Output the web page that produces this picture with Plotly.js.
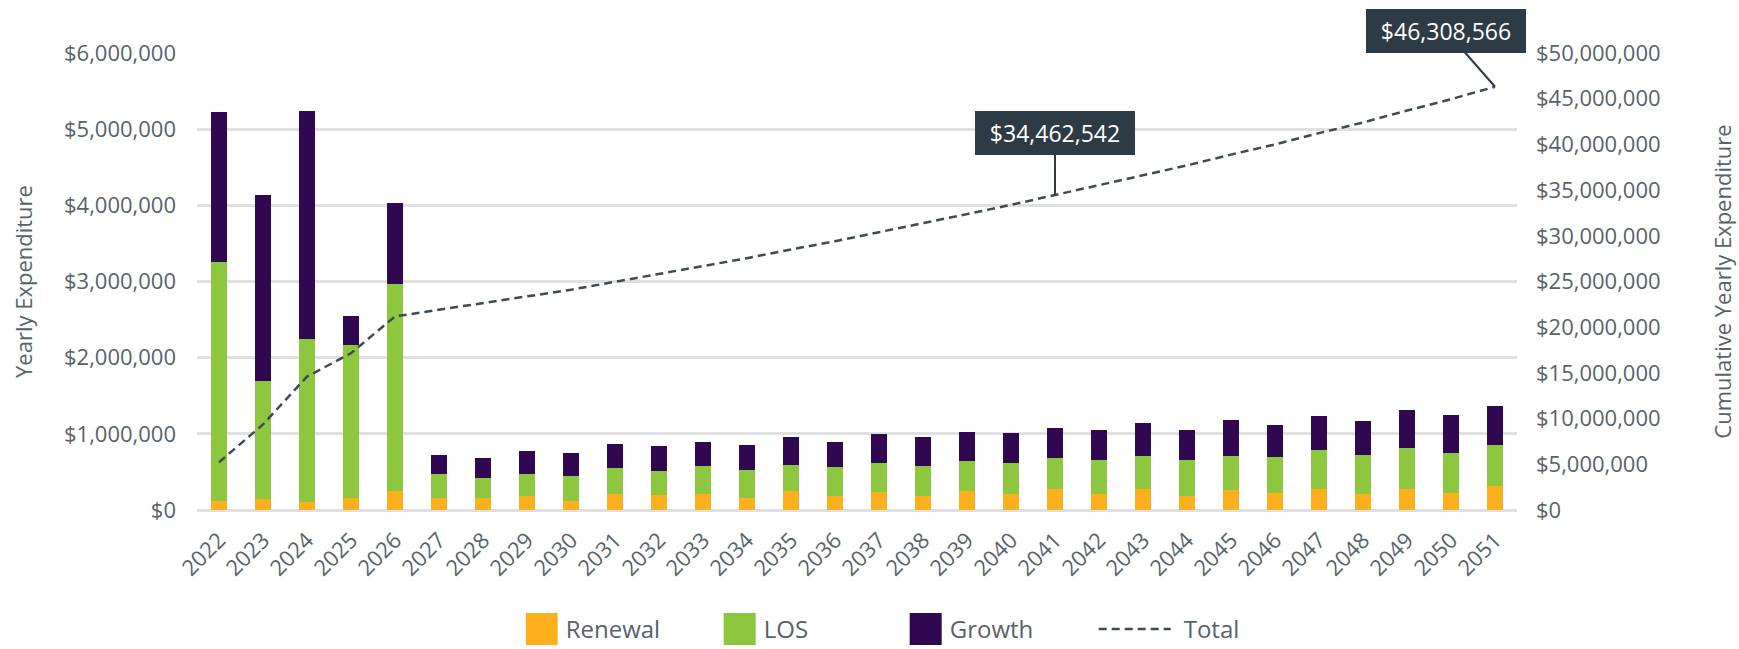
<!DOCTYPE html>
<html>
<head>
<meta charset="utf-8">
<script src="https://cdn.plot.ly/plotly-3.0.1.min.js"></script>
<style>
  html, body { margin: 0; padding: 0; background: #ffffff; }
  #chart { width: 1739px; height: 649px; }
</style>
</head>
<body>
<div id="chart"></div>
<script>
// ---- Data ----
const years = ['2022','2023','2024','2025','2026','2027','2028','2029','2030','2031',
               '2032','2033','2034','2035','2036','2037','2038','2039','2040','2041',
               '2042','2043','2044','2045','2046','2047','2048','2049','2050','2051'];

const renewal = [120000,145000,105000,153000,254000,153000,153000,184000,123000,209000,
                 191000,213000,164000,244000,178000,231000,178000,244000,209000,276000,
                 213000,276000,189000,265000,220000,277000,211000,282000,220000,317000];

const los = [3140000,1555000,2135000,2013000,2713000,315000,272000,284000,328000,338000,
             320000,365000,356000,347000,391000,391000,400000,400000,413000,404000,
             445000,435000,472000,448000,472000,516000,507000,533000,529000,542000];

const growth = [1960000,2438542,3000000,380000,1070000,254000,253000,307000,293000,320000,
                325000,311000,338000,365000,320000,378000,378000,378000,387000,400000,
                386000,436000,387000,467000,422000,441000,450000,493000,493000,502024];

const leftTicks = [0,1000000,2000000,3000000,4000000,5000000,6000000];
const leftTickLabels = ['$0','$1,000,000','$2,000,000','$3,000,000','$4,000,000','$5,000,000','$6,000,000'];
const rightTicks = [0,5000000,10000000,15000000,20000000,25000000,30000000,35000000,40000000,45000000,50000000];
const rightTickLabels = ['$0','$5,000,000','$10,000,000','$15,000,000','$20,000,000','$25,000,000',
                         '$30,000,000','$35,000,000','$40,000,000','$45,000,000','$50,000,000'];
const calloutYears = ['2041','2051'];

// Cumulative total (running sum of yearly totals)
const cumulative = [];
years.reduce(function(acc, y, i){
  const v = acc + renewal[i] + los[i] + growth[i];
  cumulative.push(v);
  return v;
}, 0);

function money(v){ return '$' + Math.round(v).toLocaleString('en-US'); }

const FONT = 'Open Sans, Noto Sans, sans-serif';
const TXT = '#58626b';

const data = [
  { type:'bar', name:'Renewal', x:years, y:renewal, marker:{color:'#FDB01E'}, hoverinfo:'none', legendwidth:153 },
  { type:'bar', name:'LOS', x:years, y:los, marker:{color:'#8DC63F'}, hoverinfo:'none', legendwidth:141 },
  { type:'bar', name:'Growth', x:years, y:growth, marker:{color:'#300852'}, hoverinfo:'none', legendwidth:189 },
  { type:'scatter', mode:'lines', name:'Total', x:years, y:cumulative, yaxis:'y2',
    line:{color:'#3f4a54', width:2.5, dash:'8px,5px'}, hoverinfo:'none', legendwidth:80 }
];

const annotations = calloutYears.map(function(yr, k){
  const i = years.indexOf(yr);
  const offs = k === 0 ? {ax:0, ay:-62} : {ax:-49, ay:-56};
  return {
    x: i, y: cumulative[i], xref:'x', yref:'y2',
    text: money(cumulative[i]),
    showarrow:true, arrowhead:0, arrowwidth:2, arrowcolor:'#2d3b46',
    ax: offs.ax, ay: offs.ay, standoff:0,
    bgcolor:'#2d3b46', bordercolor:'#2d3b46', borderwidth:1, borderpad:4,
    width:150, height:34,
    font:{family:FONT, size:23, color:'#ffffff'}
  };
});

const layout = {
  width:1739, height:649,
  margin:{l:197, r:222, t:53, b:139, autoexpand:false},
  paper_bgcolor:'#ffffff', plot_bgcolor:'#ffffff',
  font:{family:FONT, size:22, color:TXT},
  barmode:'stack',
  bargap:0.64,
  showlegend:true,
  legend:{orientation:'h', x:0.249, xanchor:'left', y:-0.212, yanchor:'top',
          font:{family:FONT, size:24, color:TXT},
          traceorder:'normal', itemclick:false},
  xaxis:{type:'category', range:[-0.5, years.length - 0.5], autorange:false, automargin:false,
         tickangle:-45, showgrid:false, zeroline:false, showline:false,
         ticks:'', tickfont:{family:FONT, size:22, color:TXT}, ticklabelstandoff:12},
  yaxis:{range:[0,6000000], autorange:false, automargin:false, tickvals:leftTicks, ticktext:leftTickLabels,
         showgrid:true, gridcolor:'#e0e0e0', gridwidth:3,
         zeroline:true, zerolinecolor:'#e0e0e0', zerolinewidth:3,
         ticks:'', ticklabelstandoff:20, tickfont:{family:FONT, size:22, color:TXT},
         title:{text:'Yearly Expenditure', standoff:25, font:{family:FONT, size:22, color:TXT}}},
  yaxis2:{range:[0,50000000], autorange:false, automargin:false, overlaying:'y', side:'right', tickvals:rightTicks, ticktext:rightTickLabels,
          showgrid:false, zeroline:false, ticks:'', ticklabelstandoff:18,
          tickfont:{family:FONT, size:22, color:TXT},
          title:{text:'Cumulative Yearly Expenditure', standoff:55, font:{family:FONT, size:22, color:TXT}}},
  annotations: annotations
};

Plotly.newPlot('chart', data, layout, {displayModeBar:false, staticPlot:true}).then(function(gd){
  const traces = gd.querySelectorAll('.legend .traces');
  traces.forEach(function(t, i){
    if (i < 3) {
      t.querySelectorAll('.legendpoints path').forEach(function(p){
        p.setAttribute('d','M12,16H-20V-16H12Z');
      });
    } else {
      t.querySelectorAll('.legendlines path').forEach(function(p){
        p.setAttribute('d','M-45,0h72');
      });
    }
  });
});
</script>
</body>
</html>
